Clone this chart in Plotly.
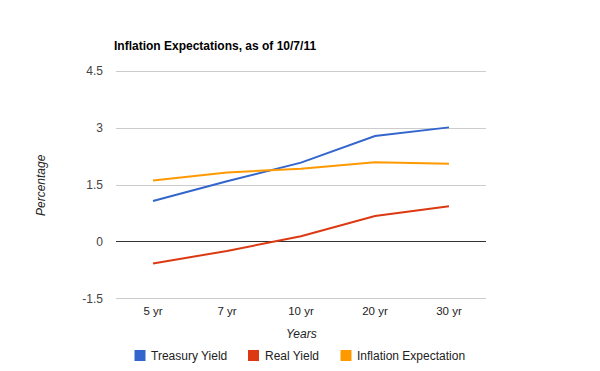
import plotly.graph_objects as go

categories = ["5 yr", "7 yr", "10 yr", "20 yr", "30 yr"]
treasury_yield = [1.08, 1.60, 2.09, 2.79, 3.02]
real_yield = [-0.57, -0.24, 0.15, 0.68, 0.94]
inflation_expectation = [1.62, 1.83, 1.93, 2.10, 2.06]
y_ticks = [-1.5, 0, 1.5, 3, 4.5]

series_names = ["Treasury Yield", "Real Yield", "Inflation Expectation"]
series_values = [treasury_yield, real_yield, inflation_expectation]
series_colors = ["#3366cc", "#dc3912", "#ff9900"]

W, H = 600, 371
L, R, T, B = 116, 114, 69, 70
PW, PH = W - L - R, H - T - B

def px_x(px):
    return (px - L) / PW

def px_y(py):
    return (H - B - py) / PH

fig = go.Figure()
for name, vals, color in zip(series_names, series_values, series_colors):
    fig.add_trace(go.Scatter(x=categories, y=vals, mode="lines", name=name,
                             line=dict(color=color, width=2), showlegend=False))

font = "Liberation Sans, Arial, sans-serif"

annotations = [
    dict(text="<i>Years</i>", x=px_x(301), y=px_y(334), xref="paper", yref="paper",
         showarrow=False, xanchor="center", yanchor="middle",
         font=dict(family=font, size=12, color="#222")),
    dict(text="<i>Percentage</i>", x=px_x(41), y=px_y(185), xref="paper", yref="paper",
         showarrow=False, xanchor="center", yanchor="middle", textangle=-90,
         font=dict(family=font, size=12, color="#222")),
]
shapes = []
sq_centers = [140, 253.5, 346]
text_starts = [151, 265, 356.5]
ly = 355.5
for name, color, cx, tx in zip(series_names, series_colors, sq_centers, text_starts):
    shapes.append(dict(type="rect", xref="paper", yref="paper",
                       x0=px_x(cx - 5.5), x1=px_x(cx + 5.5),
                       y0=px_y(ly + 5.5), y1=px_y(ly - 5.5),
                       fillcolor=color, line=dict(width=0)))
    annotations.append(dict(text=name, x=px_x(tx), y=px_y(ly), xref="paper", yref="paper",
                            showarrow=False, xanchor="left", yanchor="middle",
                            xshift=-2,
                            font=dict(family=font, size=12, color="#222")))

fig.update_layout(
    width=W, height=H,
    margin=dict(l=L, r=R, t=T, b=B, autoexpand=False),
    paper_bgcolor="white", plot_bgcolor="white",
    font=dict(family=font, size=11, color="#444"),
    showlegend=False,
    title=dict(text="<b>Inflation Expectations, as of 10/7/11</b>",
               font=dict(family=font, size=12, color="black"),
               x=114/600, xanchor="left", xref="container",
               y=1-45.5/371, yanchor="middle", yref="container", pad=dict(l=0, r=0, t=0, b=0)),
    xaxis=dict(type="category", range=[-0.5, 4.5], showgrid=False,
               showline=False, zeroline=False, ticks="", automargin=False,
               ticklabelstandoff=1,
               tickfont=dict(family=font, size=11.5, color="#222")),
    yaxis=dict(range=[-1.56, 4.56], tickvals=y_ticks,
               ticktext=[str(v) for v in y_ticks], automargin=False,
               showgrid=True, gridcolor="#cccccc", gridwidth=1,
               zeroline=True, zerolinecolor="#333333", zerolinewidth=1,
               showline=False, ticks="", ticklabelstandoff=12,
               tickfont=dict(family=font, size=12, color="#444")),
    annotations=annotations,
    shapes=shapes,
)

fig.write_html("out.html", config={"displayModeBar": False},
               post_script="document.body.style.margin='0';document.body.style.overflow='hidden';")
